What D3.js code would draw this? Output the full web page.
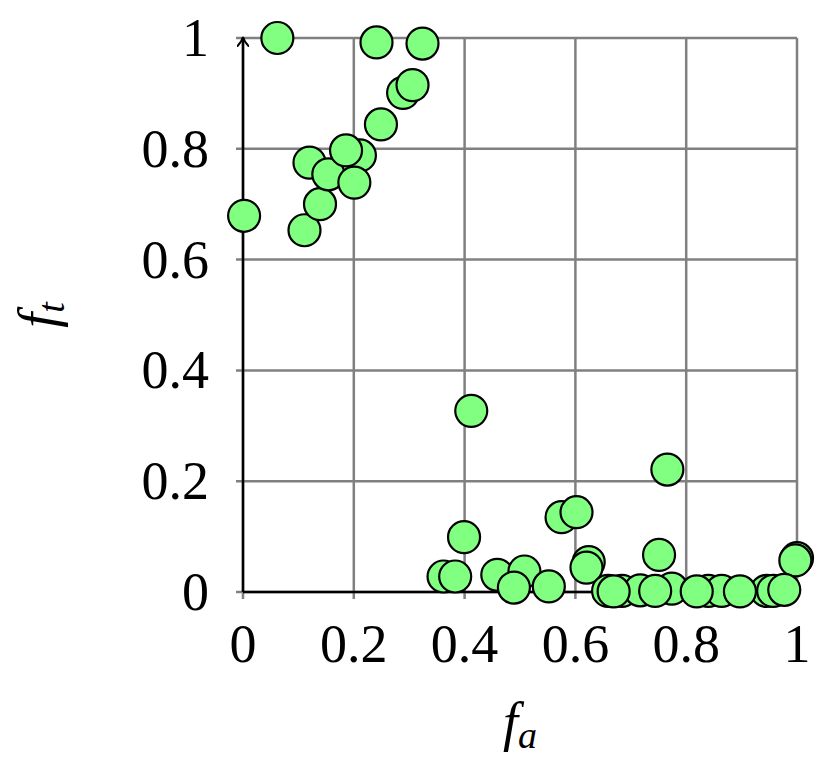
<!DOCTYPE html>
<html>
<head>
<meta charset="utf-8">
<script src="https://cdn.jsdelivr.net/npm/d3@7"></script>
<style>
  body { margin: 0; background: #fff; }
  .tick-label { font-family: "Liberation Serif", "DejaVu Serif", serif; font-size: 54px; fill: #000; }
  .axis-title { font-family: "Liberation Serif", "DejaVu Serif", serif; font-style: italic; fill: #000; }
</style>
</head>
<body>
<div id="chart"></div>
<script>
// f_a (x) and f_t (y) for every point, in drawing order
const fa = [0.002, 0.062, 0.111, 0.120, 0.139, 0.211, 0.154, 0.186, 0.201, 0.241,
            0.249, 0.289, 0.306, 0.324, 0.412, 0.399, 0.362, 0.383, 0.459, 0.508,
            0.489, 0.552, 0.575, 0.602, 0.624, 0.620, 0.766, 0.751, 1.000, 0.997,
            0.659, 0.684, 0.717, 0.774, 0.840, 0.864, 0.945, 0.957,
            0.669, 0.744, 0.819, 0.897, 0.977];
const ft = [0.679, 1.000, 0.653, 0.775, 0.700, 0.788, 0.754, 0.797, 0.739, 0.992,
            0.844, 0.901, 0.915, 0.990, 0.327, 0.099, 0.028, 0.028, 0.031, 0.037,
            0.008, 0.010, 0.135, 0.144, 0.054, 0.044, 0.221, 0.067, 0.061, 0.057,
            0.002, 0.002, 0.003, 0.006, 0.002, 0.002, 0.002, 0.002,
            0.001, 0.002, 0.001, 0.001, 0.004];
const xTicks = [0, 0.2, 0.4, 0.6, 0.8, 1];
const yTicks = [0, 0.2, 0.4, 0.6, 0.8, 1];
const tickText = ["0", "0.2", "0.4", "0.6", "0.8", "1"];

const width = 832, height = 768;
const x0 = 243, x1 = 797, y0 = 592, y1 = 38;

const svg = d3.select("#chart").append("svg")
    .attr("width", width)
    .attr("height", height);

const xScale = d3.scaleLinear().domain([0, 1]).range([x0, x1]);
const yScale = d3.scaleLinear().domain([0, 1]).range([y0, y1]);

// grid
const grid = svg.append("g").attr("stroke", "#808080").attr("stroke-width", 2.5);
grid.selectAll(".gx").data(xTicks).enter().append("line")
    .attr("x1", d => xScale(d)).attr("x2", d => xScale(d))
    .attr("y1", yScale(1)).attr("y2", yScale(0) + 7);
grid.selectAll(".gy").data(yTicks).enter().append("line")
    .attr("y1", d => yScale(d)).attr("y2", d => yScale(d))
    .attr("x1", xScale(0) - 7).attr("x2", xScale(1));

// axes with arrows
svg.append("defs").append("marker")
    .attr("id", "arrow")
    .attr("viewBox", "-10 -6 12 12")
    .attr("markerWidth", 12).attr("markerHeight", 12)
    .attr("markerUnits", "userSpaceOnUse")
    .attr("refX", 0).attr("refY", 0)
    .attr("orient", "auto")
    .append("path")
    .attr("d", "M-8,-5.5 Q-3,-1 1,0 Q-3,1 -8,5.5")
    .attr("fill", "none")
    .attr("stroke", "#000")
    .attr("stroke-width", 2)
    .attr("stroke-linecap", "round");

svg.append("line")
    .attr("x1", xScale(0)).attr("y1", yScale(0))
    .attr("x2", xScale(1)).attr("y2", yScale(0))
    .attr("stroke", "#000").attr("stroke-width", 2.5)
    .attr("marker-end", "url(#arrow)");
svg.append("line")
    .attr("x1", xScale(0)).attr("y1", yScale(0))
    .attr("x2", xScale(0)).attr("y2", yScale(1))
    .attr("stroke", "#000").attr("stroke-width", 2.5)
    .attr("marker-end", "url(#arrow)");

// tick labels
svg.selectAll(".xl").data(xTicks).enter().append("text")
    .attr("class", "tick-label")
    .attr("x", d => xScale(d))
    .attr("y", yScale(0) + 70)
    .attr("text-anchor", "middle")
    .text((d, i) => tickText[i]);
svg.selectAll(".yl").data(yTicks).enter().append("text")
    .attr("class", "tick-label")
    .attr("x", xScale(0) - 34)
    .attr("y", d => yScale(d) + 18)
    .attr("text-anchor", "end")
    .text((d, i) => tickText[i]);

// axis titles
const xt = svg.append("text").attr("class", "axis-title")
    .attr("x", 520).attr("y", 740)
    .attr("text-anchor", "middle")
    .attr("font-size", 54);
xt.append("tspan").text("f");
xt.append("tspan").attr("font-size", 38).attr("dy", 8).text("a");

const yt = svg.append("text").attr("class", "axis-title")
    .attr("transform", "translate(56,315) rotate(-90)")
    .attr("text-anchor", "middle")
    .attr("font-size", 54);
yt.append("tspan").text("f");
yt.append("tspan").attr("font-size", 38).attr("dy", 8).text("t");

// points
svg.append("g").selectAll("circle")
    .data(fa.map((d, i) => ({ fa: d, ft: ft[i] })))
    .enter()
    .append("circle")
    .attr("cx", d => xScale(d.fa))
    .attr("cy", d => yScale(d.ft))
    .attr("r", 16)
    .attr("fill", "#80ff80")
    .attr("stroke", "#000")
    .attr("stroke-width", 2.2);
</script>
</body>
</html>
